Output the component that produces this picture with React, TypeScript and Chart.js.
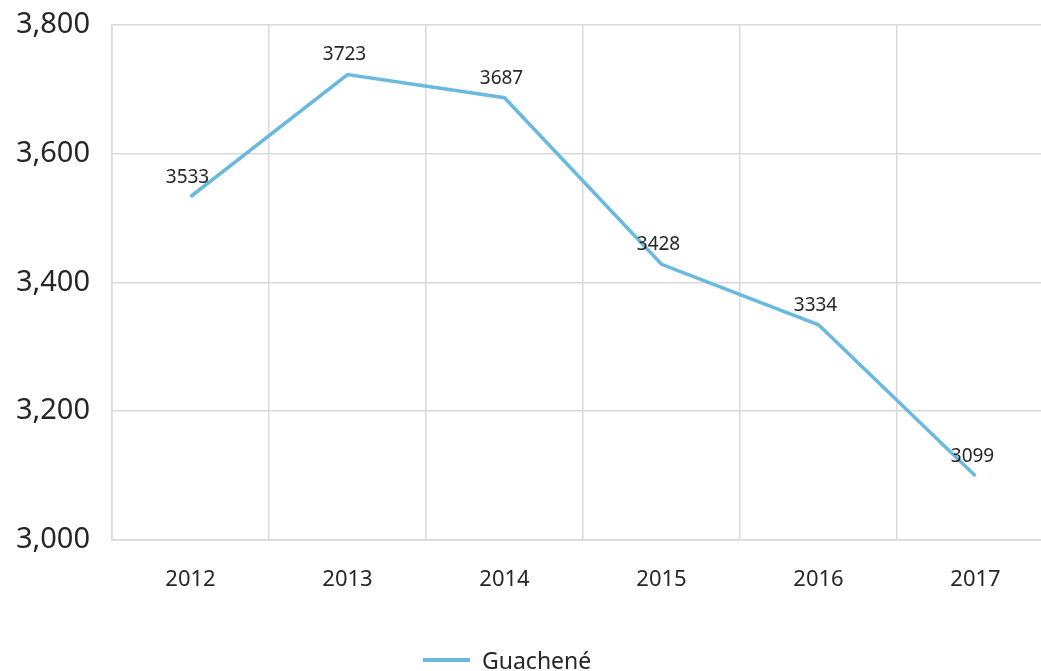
import React, { useEffect, useRef } from "react";
import { Chart, registerables } from "chart.js";

Chart.register(...registerables);

const categories = ["2012", "2013", "2014", "2015", "2016", "2017"];
const seriesName = "Guachené";
const values = [3533, 3723, 3687, 3428, 3334, 3099];
const yTicks = [3000, 3200, 3400, 3600, 3800];

const LINE_COLOR = "#6ab9de";
const GRID_COLOR = "#d9d9d9";
const TEXT_COLOR = "#262626";
const FONT = "'Noto Sans', 'Open Sans', sans-serif";

const dataLabelPlugin = {
  id: "dataLabels",
  afterDatasetsDraw(chart: any) {
    const ctx = chart.ctx;
    const meta = chart.getDatasetMeta(0);
    const data = chart.data.datasets[0].data as number[];
    ctx.save();
    ctx.font = `19px ${FONT}`;
    ctx.fillStyle = TEXT_COLOR;
    ctx.textAlign = "center";
    ctx.textBaseline = "bottom";
    meta.data.forEach((pt: any, i: number) => {
      ctx.fillText(String(data[i]), pt.x - 3, pt.y - 10);
    });
    ctx.restore();
  },
};

export default function App() {
  const ref = useRef<HTMLCanvasElement | null>(null);

  useEffect(() => {
    if (!ref.current) return;
    const chart = new Chart(ref.current, {
      type: "line",
      data: {
        labels: categories,
        datasets: [
          {
            label: seriesName,
            data: values,
            borderColor: LINE_COLOR,
            backgroundColor: LINE_COLOR,
            borderWidth: 3.5,
            pointRadius: 0,
            tension: 0,
          },
        ],
      },
      options: {
        animation: false,
        responsive: true,
        maintainAspectRatio: false,
        layout: { padding: { left: 0, top: 25, right: 2, bottom: 51 } },
        plugins: {
          legend: { display: false },
          tooltip: { enabled: false },
        },
        scales: {
          x: {
            offset: true,
            grid: { offset: true, color: GRID_COLOR, drawTicks: false, lineWidth: 1.5 },
            border: { color: GRID_COLOR, width: 1.5 },
            ticks: { color: TEXT_COLOR, font: { family: FONT, size: 22 }, padding: 27 },
          },
          y: {
            min: yTicks[0],
            max: yTicks[yTicks.length - 1],
            afterBuildTicks: (axis: any) => {
              axis.ticks = yTicks.map((v) => ({ value: v }));
            },
            afterFit: (axis: any) => {
              axis.width = 112;
              axis.paddingTop = 0;
              axis.paddingBottom = 0;
            },
            grid: { color: GRID_COLOR, drawTicks: false, lineWidth: 1.5 },
            border: { color: GRID_COLOR, width: 1.5 },
            ticks: {
              color: TEXT_COLOR,
              font: { family: FONT, size: 29 },
              padding: 22,
              callback: (v: any) => Number(v).toLocaleString("en-US"),
            },
          },
        },
      },
      plugins: [dataLabelPlugin],
    });
    return () => chart.destroy();
  }, []);

  return (
    <div
      style={{
        position: "fixed",
        left: 0,
        top: 0,
        width: 1041,
        height: 671,
        overflow: "hidden",
        background: "#fff",
      }}
    >
      <div style={{ position: "absolute", left: 0, top: 0, width: 1056, height: 671 }}>
        <canvas ref={ref} />
      </div>
      <div
        style={{
          position: "absolute",
          left: 423,
          top: 645,
          display: "flex",
          alignItems: "center",
          fontFamily: FONT,
          fontSize: 23,
          color: TEXT_COLOR,
          lineHeight: "30px",
        }}
      >
        <span
          style={{
            display: "inline-block",
            width: 47,
            height: 4,
            background: LINE_COLOR,
            marginRight: 12,
          }}
        />
        <span>{seriesName}</span>
      </div>
    </div>
  );
}
